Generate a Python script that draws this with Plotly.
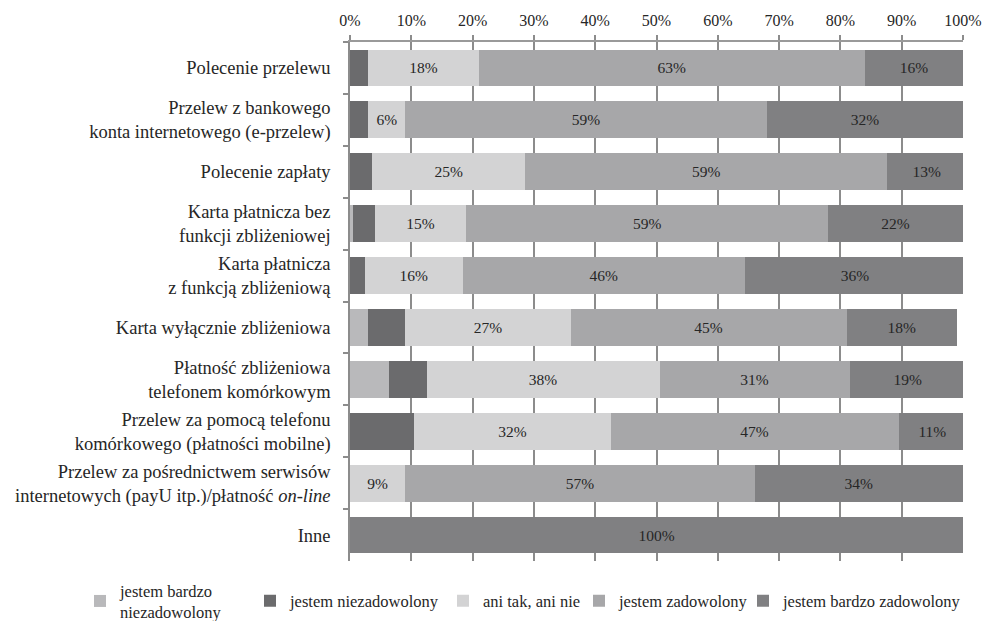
import plotly.graph_objects as go

categories = [
    "Polecenie przelewu",
    "Przelew z bankowego<br>konta internetowego (e-przelew)",
    "Polecenie zapłaty",
    "Karta płatnicza bez<br>funkcji zbliżeniowej",
    "Karta płatnicza<br>z funkcją zbliżeniową",
    "Karta wyłącznie zbliżeniowa",
    "Płatność zbliżeniowa<br>telefonem komórkowym",
    "Przelew za pomocą telefonu<br>komórkowego (płatności mobilne)",
    "Przelew za pośrednictwem serwisów<br>internetowych (payU itp.)/płatność <i>on-line</i>",
    "Inne",
]

series_names = [
    "jestem bardzo<br>niezadowolony",
    "jestem niezadowolony",
    "ani tak, ani nie",
    "jestem zadowolony",
    "jestem bardzo zadowolony",
]

bardzo_niezadowolony = [0, 0, 0, 0.5, 0, 3, 6.3, 0, 0, 0]
niezadowolony = [3, 3, 3.6, 3.5, 2.4, 6, 6.2, 10.5, 0, 0]
ani_tak_ani_nie = [18, 6, 25, 15, 16, 27, 38, 32, 9, 0]
zadowolony = [63, 59, 59, 59, 46, 45, 31, 47, 57, 0]
bardzo_zadowolony = [16, 32, 13, 22, 36, 18, 19, 11, 34, 100]

series_values = [bardzo_niezadowolony, niezadowolony, ani_tak_ani_nie,
                 zadowolony, bardzo_zadowolony]
show_labels = [False, False, True, True, True]
colors = ["#b9b9bb", "#6b6b6d", "#d3d3d4", "#a7a7a9", "#808082"]

tick_vals = [0, 10, 20, 30, 40, 50, 60, 70, 80, 90, 100]
tick_text = ["0%", "10%", "20%", "30%", "40%", "50%", "60%", "70%", "80%", "90%", "100%"]

font_family = "Liberation Serif"

# layout geometry (pixels)
W, H = 988, 621
ML, MR, MT, MB = 350, 25, 42, 60
legend_text_start_px = [118, 288, 481, 617, 781]
legend_center_y_px = 601

legend_ids = ["legend", "legend2", "legend3", "legend4", "legend5"]

fig = go.Figure()
for name, vals, lab, col, lid in zip(series_names, series_values, show_labels,
                                      colors, legend_ids):
    texts = [f"{round(v)}%" if (lab and v > 0) else "" for v in vals]
    fig.add_trace(go.Bar(
        y=categories, x=vals, name=name, orientation="h",
        marker=dict(color=col, line=dict(width=0)),
        text=texts, textposition="inside", insidetextanchor="middle",
        textfont=dict(family=font_family, size=15.5, color="#262626"),
        hoverinfo="skip", legend=lid,
    ))

legend_layout = {}
for lid, tx in zip(legend_ids, legend_text_start_px):
    legend_layout[lid] = dict(
        xref="container", yref="container",
        x=(tx - 38) / W, xanchor="left",
        y=1 - legend_center_y_px / H, yanchor="middle",
        font=dict(family=font_family, size=16.5, color="#262626"),
        bgcolor="rgba(0,0,0,0)", borderwidth=0, itemwidth=30,
        tracegroupgap=0,
    )

fig.update_layout(
    barmode="stack",
    bargap=0.29,
    width=W, height=H,
    margin=dict(l=ML, r=MR, t=MT, b=MB, autoexpand=False),
    paper_bgcolor="white", plot_bgcolor="white",
    font=dict(family=font_family, size=16, color="#262626"),
    uniformtext=dict(mode="show", minsize=10),
    showlegend=True,
    **legend_layout,
)

fig.update_xaxes(
    side="top", range=[0, 100], tickvals=tick_vals, ticktext=tick_text,
    showgrid=True, gridcolor="#8c8c8c", gridwidth=1.5,
    ticks="outside", ticklen=5, tickcolor="#8c8c8c", tickwidth=1.5,
    showline=True, linecolor="#9a9a9a", linewidth=1.5,
    zeroline=False, tickfont=dict(family=font_family, size=16),
    ticklabelstandoff=3, automargin=False,
)
fig.update_yaxes(
    autorange="reversed", type="category",
    showline=True, linecolor="#8c8c8c", linewidth=1.5,
    ticks="outside", tickson="boundaries", ticklen=5, tickcolor="#8c8c8c",
    tickwidth=1.5,
    showgrid=False, tickfont=dict(family=font_family, size=18.5),
    ticklabelstandoff=14, automargin=False,
)

fig.write_html(
    "out.html",
    config={"displayModeBar": False},
    post_script="document.body.style.margin='0px';document.body.style.overflow='hidden';",
)
